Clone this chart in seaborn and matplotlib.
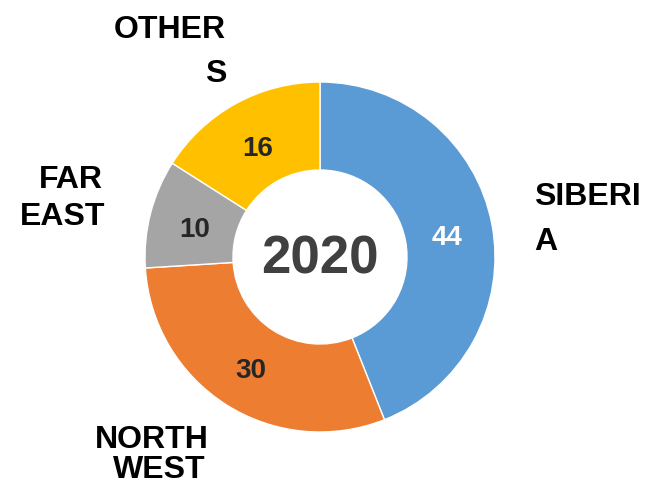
import matplotlib
matplotlib.use("Agg")
import matplotlib.pyplot as plt
import seaborn as sns
import numpy as np

# data
regions = ["SIBERIA", "NORTH WEST", "FAR EAST", "OTHERS"]
values = [44, 30, 10, 16]
colors = ["#5B9BD5", "#ED7D31", "#A5A5A5", "#FFC000"]
value_colors = ["white", "#262626", "#262626", "#262626"]
year = "2020"

sns.set_theme(style="white")
plt.rcParams['font.family'] = ['Liberation Sans', 'DejaVu Sans']

W, H = 657, 498
fig = plt.figure(figsize=(W / 100, H / 100), dpi=100)
ax = fig.add_axes([0, 0, 1, 1])

def py(y):
    # pixel y (from top) -> data y
    return H - y

cx, cy = 320, py(257)
R, ring = 175, 88
wedges, _ = ax.pie(values, colors=colors, startangle=90, counterclock=False,
                   center=(cx, cy), radius=R, frame=True,
                   wedgeprops=dict(width=ring, edgecolor='white', linewidth=1))
ax.set_xlim(0, W)
ax.set_ylim(0, H)
ax.set_aspect('equal')
ax.axis('off')

# values inside ring
for w, v, c in zip(wedges, values, value_colors):
    ang = np.deg2rad((w.theta1 + w.theta2) / 2)
    r = R - ring / 2 - 2
    ax.text(cx + r * np.cos(ang), cy + r * np.sin(ang) - 5, str(v), ha='center', va='center',
            fontsize=20, fontweight='bold', color=c)

ax.text(cx, cy - 2, year, ha='center', va='center', fontsize=38, fontweight='bold', color='#404040')

# outside labels, wrapped like the original (one text per line)
lab = dict(fontsize=23, fontweight='bold', color='black', va='baseline')
ax.text(226, py(38), "OTHER", ha='right', **lab)
ax.text(226, py(82), "S", ha='right', **lab)
ax.text(103, py(188), "FAR", ha='right', **lab)
ax.text(105, py(225), "EAST", ha='right', **lab)
ax.text(534, py(205), "SIBERI", ha='left', **lab)
ax.text(534, py(250), "A", ha='left', **lab)
ax.text(209, py(448), "NORTH", ha='right', **lab)
ax.text(206, py(478), "WEST", ha='right', **lab)

fig.savefig("out.png", dpi=100)
